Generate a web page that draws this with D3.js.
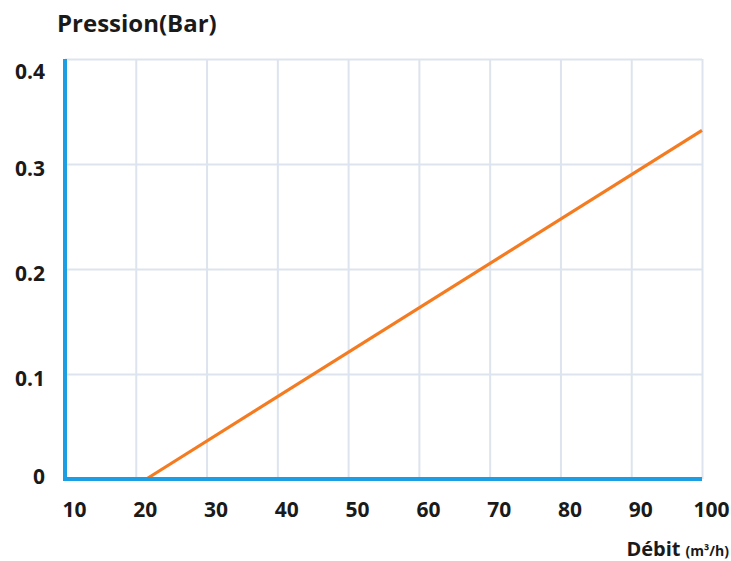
<!DOCTYPE html>
<html><head><meta charset="utf-8">
<script src="https://cdn.jsdelivr.net/npm/d3@7"></script>
<style>
body{margin:0;background:#fff;}
text{font-family:"Open Sans",sans-serif;font-weight:700;fill:#1a1a1a;}
</style></head>
<body><svg id="c" width="731" height="561"></svg>
<script>
const xTicks = [10,20,30,40,50,60,70,80,90,100];
const yTicks = [0,0.1,0.2,0.3,0.4];
const yTickLabels = ["0","0.1","0.2","0.3","0.4"];
const debit = [21.5, 100];
const pression = [0, 0.332];

const svg = d3.select("#c");
const m = {l:65, r:29, t:59, b:82};
const W = 731, H = 561;
const x = d3.scaleLinear().domain([10,100]).range([m.l, W-m.r]);
const y = d3.scaleLinear().domain([0,0.4]).range([H-m.b, m.t]);

// grid
const gx = svg.append("g").attr("transform",`translate(0,${y(0)})`)
  .call(d3.axisBottom(x).tickValues(xTicks.slice(1)).tickSize(-(y(0)-y(0.4))).tickFormat(""));
gx.select(".domain").remove();
gx.selectAll("line").attr("stroke","#dde4ee").attr("stroke-width",2);
const gy = svg.append("g").attr("transform",`translate(${x(10)},0)`)
  .call(d3.axisLeft(y).tickValues(yTicks.slice(1)).tickSize(-(x(100)-x(10))).tickFormat(""));
gy.select(".domain").remove();
gy.selectAll("line").attr("stroke","#dde4ee").attr("stroke-width",2);

// tick labels
const lx = svg.append("g").attr("transform",`translate(0,${y(0)})`)
  .call(d3.axisBottom(x).tickValues(xTicks).tickSize(0).tickPadding(0).tickFormat(d3.format("d")));
lx.select(".domain").remove();
lx.selectAll("text").attr("font-size",21).attr("dx",9).attr("dy",0).attr("y",38)
  .style("font-family","'Open Sans',sans-serif").style("font-weight",700).attr("fill","#1a1a1a");
const ly = svg.append("g").attr("transform",`translate(${x(10)},0)`)
  .call(d3.axisLeft(y).tickValues(yTicks).tickSize(0).tickPadding(20).tickFormat((d,i)=>yTickLabels[i]));
ly.select(".domain").remove();
ly.selectAll("text").attr("font-size",21).attr("dy",(d)=> d===0 ? "0.2em" : (d===0.4 ? "0.95em" : "0.55em"))
  .style("font-family","'Open Sans',sans-serif").style("font-weight",700).attr("fill","#1a1a1a");

// data line
svg.append("path")
  .datum(debit.map((d,i)=>[d,pression[i]]))
  .attr("fill","none").attr("stroke","#f47b20").attr("stroke-width",3.2)
  .attr("d", d3.line().x(d=>x(d[0])).y(d=>y(d[1])));

// axis lines
svg.append("line").attr("x1",x(10)).attr("x2",x(10)).attr("y1",y(0.4)).attr("y2",y(0)+2)
  .attr("stroke","#1b9ee3").attr("stroke-width",4);
svg.append("line").attr("x1",x(10)-2).attr("x2",x(100)).attr("y1",y(0)).attr("y2",y(0))
  .attr("stroke","#1b9ee3").attr("stroke-width",4);

// titles
svg.append("text").attr("x",57).attr("y",32).attr("font-size",24).text("Pression(Bar)");
const t = svg.append("text").attr("x",729).attr("y",556).attr("font-size",20).attr("text-anchor","end");
t.append("tspan").text("Débit");
t.append("tspan").attr("font-size",14).attr("dx",5).text("(m³/h)");
</script></body></html>
